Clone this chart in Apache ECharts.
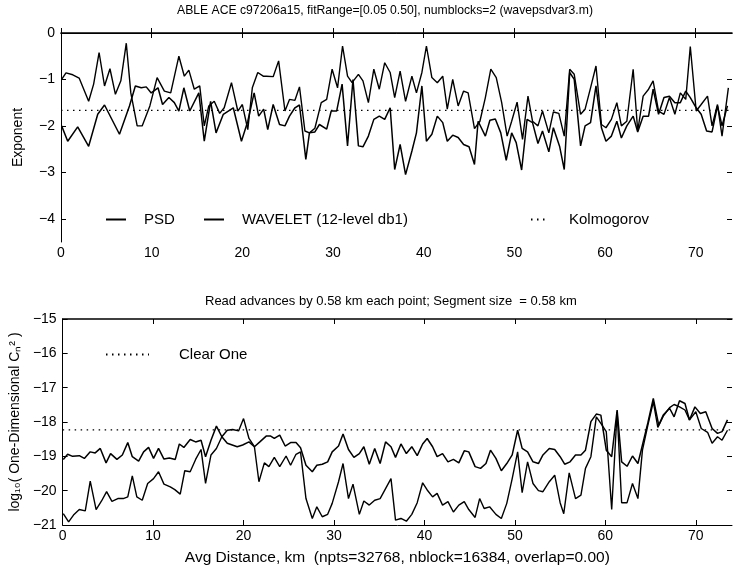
<!DOCTYPE html>
<html><head><meta charset="utf-8">
<script src="https://cdn.jsdelivr.net/npm/echarts@6/dist/echarts.min.js"></script>
<style>html,body{margin:0;padding:0;background:#fff}#c{width:734px;height:569px}</style>
</head><body><div id="c"></div>
<script>
// ---------- data ----------
const xTicks = [0, 10, 20, 30, 40, 50, 60, 70];
const topYTicks = [0, -1, -2, -3, -4];
const botYTicks = [-15, -16, -17, -18, -19, -20, -21];
const xMin = 0, xMax = 74;
const topYMin = -4.5, topYMax = 0;
const botYMin = -21, botYMax = -15;
const kolmogorovLevel = -5 / 3;
const clearOneLevel = -18.23;

const topTitle = 'ABLE ACE c97206a15, fitRange=[0.05 0.50], numblocks=2 (wavepsdvar3.m)';
const botTitle = 'Read advances by 0.58 km each point; Segment size  = 0.58 km';
const xName = 'Avg Distance, km  (npts=32768, nblock=16384, overlap=0.00)';
const topYName = 'Exponent';
const botYName = 'log\u2081\u2080( One-Dimensional C\u2099\u00B2 )';

// exponent, PSD
const psd = [[0.07,-1.0],[0.55,-0.86],[1.3,-0.9],[2.0,-0.97],[3.05,-1.47],[3.6,-1.1],[4.2,-0.42],[4.8,-1.14],[5.4,-0.77],[6.0,-1.32],[6.6,-1.03],[7.2,-0.22],[7.7,-1.29],[8.4,-2.0],[8.95,-2.0],[9.8,-1.57],[10.6,-0.96],[11.4,-1.25],[12.1,-1.29],[13.0,-0.5],[13.6,-0.93],[14.1,-0.8],[14.7,-1.21],[15.3,-1.14],[15.8,-2.0],[16.3,-1.57],[16.9,-1.47],[17.5,-1.73],[18.0,-1.61],[18.8,-1.07],[19.5,-1.68],[20.0,-1.54],[20.6,-2.08],[21.1,-1.18],[21.7,-0.85],[22.3,-0.93],[22.65,-0.93],[23.4,-0.94],[24.0,-0.6],[24.7,-1.68],[25.2,-1.43],[25.8,-1.45],[26.3,-1.16],[26.9,-2.11],[27.4,-2.15],[28.0,-2.05],[28.7,-1.5],[29.3,-1.43],[29.9,-0.78],[30.5,-1.18],[31.05,-0.28],[31.6,-0.93],[32.1,-1.07],[32.8,-0.89],[33.3,-1.03],[33.9,-1.5],[34.5,-0.78],[35.1,-1.21],[35.7,-0.64],[36.3,-0.85],[36.8,-1.39],[37.4,-0.82],[38.0,-1.47],[38.7,-0.93],[39.2,-1.29],[39.8,-0.85],[40.3,-0.28],[40.9,-0.96],[41.5,-1.07],[42.1,-0.93],[42.6,-1.64],[43.2,-1.0],[43.8,-1.57],[44.4,-1.25],[44.9,-1.29],[45.6,-2.06],[46.2,-1.9],[46.8,-1.39],[47.4,-0.78],[48.0,-0.96],[48.6,-1.5],[49.2,-2.22],[49.7,-1.9],[50.3,-1.49],[50.9,-2.29],[51.5,-1.36],[52.0,-1.9],[52.6,-2.0],[53.1,-1.68],[53.8,-2.15],[54.3,-1.7],[54.9,-1.73],[55.5,-2.22],[56.1,-0.78],[56.6,-0.89],[57.3,-1.75],[57.8,-1.64],[58.4,-1.18],[59.0,-0.71],[59.6,-1.97],[60.1,-2.04],[60.7,-1.86],[61.3,-1.5],[61.8,-2.0],[62.4,-1.9],[63.1,-0.78],[63.6,-2.11],[64.2,-1.36],[64.8,-1.21],[65.3,-1.03],[65.9,-1.68],[66.5,-1.75],[67.1,-1.39],[67.7,-1.75],[68.3,-1.29],[68.9,-1.43],[69.4,-0.29],[70.05,-1.68],[70.6,-1.54],[71.3,-1.36],[71.8,-2.0],[72.4,-1.54],[72.9,-2.22],[73.6,-1.18]];

// exponent, WAVELET
const wavelet = [[0.07,-2.0],[0.74,-2.33],[1.84,-2.02],[3.05,-2.44],[4.05,-1.75],[4.8,-1.55],[6.45,-2.18],[7.55,-1.57],[8.2,-1.14],[8.85,-1.18],[9.4,-1.16],[9.95,-1.29],[10.7,-1.18],[11.2,-1.54],[11.9,-1.39],[12.5,-1.5],[13.0,-1.68],[13.55,-1.18],[14.2,-1.68],[15.2,-1.29],[15.8,-2.33],[16.5,-1.47],[17.1,-2.15],[17.9,-1.75],[19.0,-1.61],[19.9,-2.33],[20.6,-1.9],[21.3,-1.29],[21.8,-1.79],[22.35,-1.64],[22.8,-2.08],[23.4,-1.54],[24.1,-1.97],[24.7,-2.0],[25.2,-1.79],[25.8,-1.61],[26.3,-1.55],[27.0,-2.72],[27.4,-2.15],[28.0,-2.13],[28.5,-1.97],[29.3,-2.07],[29.8,-1.68],[30.4,-1.68],[31.0,-1.1],[31.6,-2.43],[32.2,-1.0],[32.8,-2.43],[33.3,-2.45],[33.9,-2.22],[34.5,-1.86],[35.1,-1.79],[35.7,-1.86],[36.3,-1.61],[36.8,-2.94],[37.4,-2.4],[38.0,-3.05],[38.7,-2.54],[39.2,-2.15],[39.8,-1.14],[40.3,-2.33],[40.9,-2.18],[41.5,-1.79],[42.1,-1.93],[42.6,-2.33],[43.2,-2.2],[43.8,-2.25],[44.4,-2.4],[45.0,-2.45],[45.6,-2.83],[46.0,-1.9],[46.8,-2.22],[47.3,-1.88],[47.9,-1.85],[48.5,-2.15],[49.1,-2.74],[49.7,-2.15],[50.2,-2.36],[50.8,-2.95],[51.4,-1.86],[52.0,-1.93],[52.6,-2.38],[53.1,-2.11],[53.8,-2.56],[54.3,-2.04],[55.0,-2.45],[55.5,-2.94],[56.1,-0.85],[56.6,-1.0],[57.3,-2.43],[57.8,-2.0],[58.4,-1.93],[59.0,-1.14],[59.6,-2.04],[60.1,-2.33],[60.7,-2.22],[61.3,-1.9],[61.8,-2.26],[62.4,-2.0],[63.1,-1.79],[63.6,-2.13],[64.2,-1.79],[64.8,-1.79],[65.3,-1.21],[65.9,-1.75],[66.5,-1.39],[67.1,-1.36],[67.7,-1.5],[68.3,-1.5],[68.9,-1.25],[69.4,-1.39],[70.05,-1.61],[70.6,-1.75],[71.2,-2.11],[71.8,-2.13],[72.4,-1.57],[72.9,-2.0],[73.5,-1.57]];

// log10 Cn2, upper curve
const cnUpper = [[0.07,-19.09],[0.55,-18.94],[1.1,-19.0],[1.84,-18.98],[2.4,-19.06],[3.05,-18.87],[3.6,-18.9],[4.16,-18.77],[4.8,-19.19],[5.3,-18.92],[6.0,-19.09],[6.6,-18.96],[7.2,-18.6],[7.7,-19.01],[8.4,-19.14],[8.95,-18.87],[9.5,-18.74],[10.05,-19.06],[10.6,-18.77],[11.2,-19.08],[11.8,-19.05],[12.45,-19.09],[12.9,-18.64],[13.4,-18.74],[14.1,-18.51],[14.7,-18.58],[15.3,-18.53],[15.8,-19.01],[16.4,-18.53],[17.0,-18.12],[17.6,-18.43],[18.2,-18.62],[19.3,-18.72],[19.9,-18.67],[20.6,-18.58],[21.2,-18.72],[21.8,-18.58],[22.5,-18.41],[23.0,-18.41],[23.4,-18.48],[24.0,-18.38],[24.6,-18.7],[25.2,-18.6],[25.8,-18.6],[26.3,-18.75],[26.9,-19.26],[27.6,-19.45],[28.1,-19.26],[28.7,-19.23],[29.3,-19.16],[29.8,-18.87],[30.5,-18.7],[31.0,-18.35],[31.6,-18.8],[32.2,-19.03],[32.8,-18.92],[33.3,-18.72],[33.9,-19.23],[34.5,-18.77],[35.1,-19.21],[35.7,-18.58],[36.3,-18.72],[36.8,-19.03],[37.4,-18.64],[38.0,-18.92],[38.6,-18.72],[39.2,-18.98],[39.8,-18.64],[40.3,-18.48],[40.9,-18.72],[41.4,-19.01],[42.0,-18.92],[42.6,-19.16],[43.2,-19.09],[43.8,-19.19],[44.4,-18.84],[44.9,-18.87],[45.6,-19.3],[46.2,-19.35],[46.8,-19.21],[47.3,-18.82],[47.9,-19.06],[48.5,-19.42],[49.1,-19.21],[49.7,-18.96],[50.3,-18.24],[50.8,-18.77],[51.4,-18.87],[52.0,-19.16],[52.6,-19.21],[53.1,-18.96],[53.8,-18.77],[54.4,-18.8],[55.0,-19.01],[55.5,-19.23],[56.1,-19.16],[56.7,-18.96],[57.3,-18.96],[57.8,-18.82],[58.4,-17.99],[59.0,-17.77],[59.5,-17.8],[60.1,-18.82],[60.7,-19.01],[61.3,-17.65],[61.8,-19.16],[62.4,-19.29],[63.0,-18.99],[63.6,-19.21],[64.1,-18.67],[64.7,-18.02],[65.3,-17.31],[65.9,-18.09],[66.4,-17.8],[67.1,-17.6],[67.6,-17.85],[68.2,-17.38],[68.8,-17.46],[69.3,-17.94],[69.9,-17.56],[70.5,-17.75],[71.1,-17.7],[71.8,-18.19],[72.4,-18.33],[72.9,-18.28],[73.5,-17.94]];

// log10 Cn2, lower curve
const cnLower = [[0.07,-20.67],[0.66,-20.91],[1.2,-20.71],[1.84,-20.55],[2.5,-20.59],[3.05,-19.72],[3.7,-20.55],[4.3,-20.3],[4.86,-20.03],[5.45,-20.31],[6.1,-20.23],[6.7,-20.23],[7.2,-20.18],[7.7,-19.57],[8.2,-20.18],[8.8,-20.28],[9.4,-19.79],[10.05,-19.65],[10.6,-19.45],[11.2,-19.81],[11.9,-19.89],[12.4,-19.97],[13.0,-20.1],[13.5,-19.42],[14.1,-19.45],[14.7,-19.09],[15.3,-18.8],[15.8,-19.79],[16.4,-18.96],[17.0,-18.77],[17.6,-18.43],[18.2,-18.24],[18.8,-18.22],[19.45,-18.26],[20.0,-17.9],[20.6,-18.48],[21.2,-18.72],[21.7,-19.74],[22.3,-19.19],[22.8,-19.3],[23.4,-19.03],[24.0,-19.3],[24.7,-18.99],[25.2,-19.26],[25.8,-18.94],[26.3,-18.87],[26.9,-20.23],[27.6,-20.81],[28.1,-20.47],[28.7,-20.76],[29.3,-20.69],[29.8,-20.37],[30.5,-19.74],[31.0,-19.21],[31.6,-20.23],[32.1,-19.81],[32.8,-20.69],[33.3,-20.3],[33.9,-20.42],[34.5,-20.28],[35.1,-20.23],[35.7,-19.94],[36.3,-19.65],[36.8,-20.86],[37.4,-20.81],[38.0,-20.89],[38.6,-20.69],[39.2,-20.35],[39.8,-19.77],[40.3,-19.98],[40.9,-20.18],[41.4,-20.08],[42.0,-20.42],[42.6,-20.32],[43.2,-20.62],[43.8,-20.42],[44.4,-20.32],[44.9,-20.55],[45.6,-20.78],[46.1,-20.23],[46.6,-20.52],[47.2,-20.47],[47.9,-20.69],[48.5,-20.81],[49.1,-20.37],[49.7,-19.65],[50.3,-18.87],[50.8,-20.06],[51.4,-19.16],[52.0,-19.79],[52.6,-20.0],[53.1,-20.03],[53.8,-19.74],[54.4,-19.55],[55.0,-20.35],[55.4,-20.67],[56.0,-19.48],[56.7,-20.23],[57.3,-20.13],[57.8,-19.35],[58.4,-19.01],[59.0,-17.85],[59.5,-18.04],[60.1,-18.28],[60.7,-20.55],[61.3,-17.7],[61.8,-20.35],[62.4,-20.35],[63.0,-19.79],[63.6,-20.23],[64.1,-18.82],[64.7,-18.09],[65.3,-17.41],[65.8,-18.16],[66.4,-17.83],[67.1,-17.58],[67.6,-17.49],[68.2,-17.56],[68.8,-17.65],[69.3,-17.94],[70.0,-17.7],[70.6,-18.19],[71.3,-18.3],[71.8,-18.62],[72.4,-18.43],[72.9,-18.53],[73.5,-18.24]];

// ---------- chart ----------
const FONT = "'Liberation Sans', Arial, Helvetica, sans-serif";
const minus = v => String(v).replace('-', '\u2212');
const chart = echarts.init(document.getElementById('c'), null, {renderer: 'canvas'});

const grids = [
  {left: 61, top: 33, width: 671, height: 209},
  {left: 61, top: 319, width: 671, height: 206}
];

function xAx(gi, pos, showLabel, name) {
  return {
    type: 'value', gridIndex: gi, position: pos, min: xMin, max: xMax,
    axisLine: {show: true, lineStyle: {color: '#000', width: pos === 'top' ? 1.5 : 1}},
    axisTick: {show: true, inside: true, length: 5, customValues: xTicks, lineStyle: {color: '#000'}},
    axisLabel: {show: showLabel, customValues: xTicks, color: '#000', fontFamily: FONT, fontSize: 14, margin: 4},
    splitLine: {show: false},
    name: name || '', nameLocation: 'middle', nameGap: 25,
    nameTextStyle: {color: '#000', fontFamily: FONT, fontSize: 15.5}
  };
}
function yAx(gi, pos, showLabel, mn, mx, ticks, name, gap) {
  return {
    type: 'value', gridIndex: gi, position: pos, min: mn, max: mx,
    axisLine: {show: pos === 'left', onZero: false, lineStyle: {color: '#000', width: 1}},
    axisTick: {show: true, inside: true, length: 5, customValues: ticks, lineStyle: {color: '#000'}},
    axisLabel: {show: showLabel, customValues: ticks, formatter: minus, color: '#000', fontFamily: FONT, fontSize: 14, margin: 6},
    splitLine: {show: false},
    name: name || '', nameLocation: 'middle', nameGap: gap || 30, nameRotate: 90,
    nameTextStyle: {color: '#000', fontFamily: FONT, fontSize: 14}
  };
}

const lineSeries = (name, data, xi, yi, width, type) => ({
  name, type: 'line', data, xAxisIndex: xi, yAxisIndex: yi,
  symbol: 'none', showSymbol: false, animation: false, clip: true,
  lineStyle: {color: '#000', width: width, type: type || 'solid'},
  itemStyle: {color: '#000'}
});

const legendText = (pad) => ({color: '#000', fontFamily: FONT, fontSize: 15, padding: [0, 0, 0, pad]});
const legendBase = {
  orient: 'horizontal', itemWidth: 20, itemHeight: 10, selectedMode: false, padding: 0,
  itemStyle: {opacity: 0}
};

chart.setOption({
  backgroundColor: '#fff',
  animation: false,
  title: [
    {text: topTitle, left: 177, top: 5, padding: 0, textStyle: {color: '#000', fontFamily: FONT, fontSize: 12.2, fontWeight: 'normal'}},
    {text: botTitle, left: 205, top: 295, padding: 0, textStyle: {color: '#000', fontFamily: FONT, fontSize: 13, fontWeight: 'normal'}}
  ],
  grid: grids,
  xAxis: [xAx(0, 'bottom', true), xAx(0, 'top', false), xAx(1, 'bottom', true, xName), xAx(1, 'top', false)],
  yAxis: [
    yAx(0, 'left', true, topYMin, topYMax, topYTicks, topYName, 36),
    yAx(0, 'right', false, topYMin, topYMax, topYTicks),
    yAx(1, 'left', true, botYMin, botYMax, botYTicks, botYName, 37),
    yAx(1, 'right', false, botYMin, botYMax, botYTicks)
  ],
  legend: [
    Object.assign({}, legendBase, {data: ['PSD'], left: 105, top: 212, textStyle: legendText(13)}),
    Object.assign({}, legendBase, {data: ['WAVELET (12-level db1)'], left: 203, top: 212, textStyle: legendText(13)}),
    Object.assign({}, legendBase, {data: ['Kolmogorov'], left: 530, top: 212, itemWidth: 17, textStyle: legendText(16)}),
    Object.assign({}, legendBase, {data: ['Clear One'], left: 105, top: 347, itemWidth: 43, textStyle: legendText(25)})
  ],
  series: [
    lineSeries('PSD', psd, 0, 0, 1.4),
    lineSeries('WAVELET (12-level db1)', wavelet, 0, 0, 1.5),
    lineSeries('Kolmogorov', [[xMin, kolmogorovLevel], [xMax, kolmogorovLevel]], 0, 0, 1.3, [1.5, 4.5]),
    lineSeries('Cn2 upper', cnUpper, 2, 2, 1.5),
    lineSeries('Cn2 lower', cnLower, 2, 2, 1.4),
    lineSeries('Clear One', [[xMin, clearOneLevel], [xMax, clearOneLevel]], 2, 2, 1.3, [1.5, 4.5])
  ]
});
</script>
</body></html>
